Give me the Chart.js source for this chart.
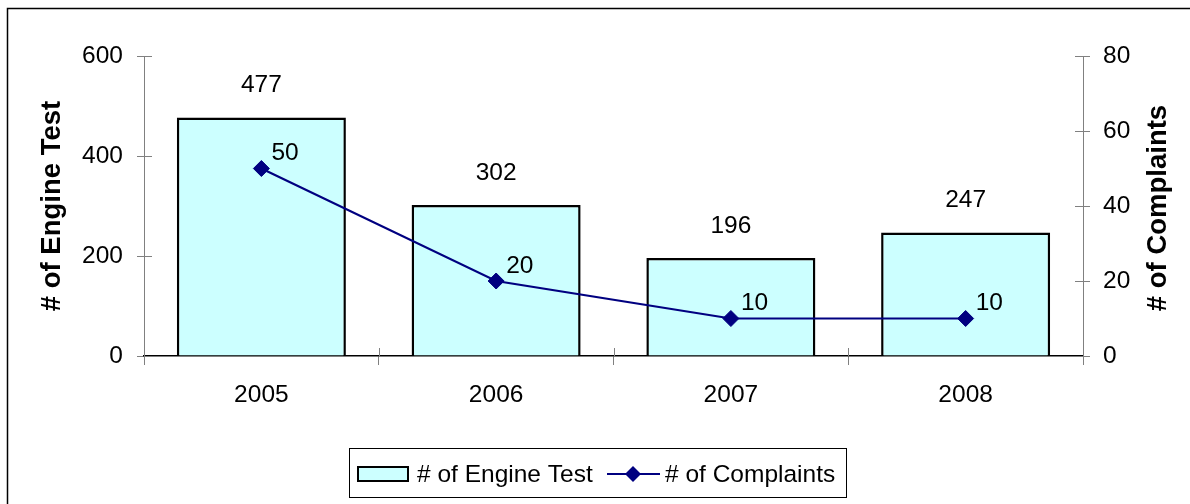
<!DOCTYPE html>
<html>
<head>
<meta charset="utf-8">
<script src="https://cdn.jsdelivr.net/npm/chart.js@4"></script>
<style>
  body { margin: 0; background: #fff; }
</style>
</head>
<body>
<canvas id="chart1" width="1190" height="504"></canvas>
<script>
var years = ["2005", "2006", "2007", "2008"];
var engineTests = [477, 302, 196, 247];
var complaints = [50, 20, 10, 10];
var leftTicks = [0, 200, 400, 600];
var rightTicks = [0, 20, 40, 60, 80];

var FONT = "'Liberation Sans', Arial, sans-serif";
var NAVY = '#000080';
var CYAN = '#CCFFFF';

// frame, value labels, right title, tick marks crossing the axes, legend
var extras = {
    id: 'extras',
    afterDatasetsDraw: function(chart){
        var ctx = chart.ctx;
        ctx.save();
        ctx.fillStyle = '#000';
        ctx.font = '24.5px ' + FONT;
        ctx.textBaseline = 'middle';
        ctx.textAlign = 'center';
        chart.getDatasetMeta(0).data.forEach(function(bar, i){
            ctx.fillText(engineTests[i], bar.x, bar.y - 32);
        });
        ctx.textAlign = 'left';
        chart.getDatasetMeta(1).data.forEach(function(pt, i){
            ctx.fillText(complaints[i], pt.x + 10, pt.y - 15);
        });
        ctx.restore();
    },
    afterDraw: function(chart){
        var ctx = chart.ctx;
        var area = chart.chartArea;
        ctx.save();
        // outer frame
        ctx.strokeStyle = '#000';
        ctx.lineWidth = 1.5;
        ctx.beginPath();
        ctx.moveTo(7.5, 504);
        ctx.lineTo(7.5, 8.5);
        ctx.lineTo(1190, 8.5);
        ctx.stroke();

        // inner halves of ticks
        ctx.strokeStyle = '#808080';
        ctx.lineWidth = 1;
        var y = chart.scales.y, y1 = chart.scales.y1, x = chart.scales.x;
        leftTicks.forEach(function(v){
            var py = Math.round(y.getPixelForValue(v)) + 0.5;
            ctx.beginPath(); ctx.moveTo(area.left, py); ctx.lineTo(area.left + 8, py); ctx.stroke();
        });
        rightTicks.forEach(function(v){
            var py = Math.round(y1.getPixelForValue(v)) + 0.5;
            ctx.beginPath(); ctx.moveTo(area.right - 8, py); ctx.lineTo(area.right, py); ctx.stroke();
        });
        var half = (x.getPixelForValue(1) - x.getPixelForValue(0)) / 2;
        for (var i = 0; i <= years.length; i++) {
            var px = Math.round(x.getPixelForValue(i) - half) + 0.5;
            ctx.beginPath(); ctx.moveTo(px, area.bottom - 8); ctx.lineTo(px, area.bottom); ctx.stroke();
        }

        // right axis title, reading upwards
        ctx.fillStyle = '#000';
        ctx.font = 'bold 27.5px ' + FONT;
        ctx.textAlign = 'center';
        ctx.textBaseline = 'middle';
        ctx.translate(1158, (area.top + area.bottom) / 2 + 2);
        ctx.rotate(-Math.PI / 2);
        ctx.fillText('# of Complaints', 0, 0);
        ctx.restore();

        // legend
        ctx.save();
        ctx.strokeStyle = '#000';
        ctx.lineWidth = 1;
        ctx.strokeRect(349.5, 448.5, 497, 49);
        ctx.fillStyle = CYAN;
        ctx.fillRect(358, 467, 50, 14);
        ctx.lineWidth = 2;
        ctx.strokeRect(358, 467, 50, 14);
        ctx.strokeStyle = NAVY;
        ctx.beginPath(); ctx.moveTo(607, 474); ctx.lineTo(660, 474); ctx.stroke();
        ctx.fillStyle = NAVY;
        ctx.beginPath();
        ctx.moveTo(633, 466); ctx.lineTo(641, 474); ctx.lineTo(633, 482); ctx.lineTo(625, 474);
        ctx.closePath(); ctx.fill();
        ctx.fillStyle = '#000';
        ctx.font = '24.5px ' + FONT;
        ctx.textAlign = 'left';
        ctx.textBaseline = 'middle';
        ctx.fillText('# of Engine Test', 417, 475);
        ctx.fillText('# of Complaints', 665, 475);
        ctx.restore();
    }
};

var ctx = document.getElementById("chart1").getContext('2d');
var chart = new Chart(ctx, {
    type: 'bar',
    data: {
        labels: years,
        datasets: [{
            type: 'bar',
            label: '# of Engine Test',
            data: engineTests,
            yAxisID: 'y',
            backgroundColor: CYAN,
            borderColor: '#000',
            borderWidth: 2.5,
            categoryPercentage: 1,
            barPercentage: 0.72,
            order: 2
        }, {
            type: 'line',
            label: '# of Complaints',
            data: complaints,
            yAxisID: 'y1',
            borderColor: NAVY,
            backgroundColor: NAVY,
            borderWidth: 2.2,
            pointStyle: 'rectRot',
            pointRadius: 8,
            pointBorderWidth: 1,
            tension: 0,
            order: 1
        }]
    },
    options: {
        responsive: false,
        animation: false,
        layout: { padding: { top: 56 } },
        plugins: {
            legend: { display: false },
            tooltip: { enabled: false }
        },
        scales: {
            x: {
                grid: { offset: true, drawOnChartArea: false, tickLength: 9, color: '#808080' },
                border: { color: '#000', width: 1.5 },
                ticks: { color: '#000', font: { family: FONT, size: 24.5 }, padding: 16 },
                afterFit: function(s){ s.height = 148; }
            },
            y: {
                position: 'left',
                min: 0, max: 600,
                grid: { drawOnChartArea: false, tickLength: 7, color: '#808080' },
                border: { color: '#808080' },
                ticks: { stepSize: 200, color: '#000', font: { family: FONT, size: 24.5 }, padding: 14 },
                title: { display: true, text: '# of Engine Test', color: '#000',
                         font: { family: FONT, size: 27.5, weight: 'bold' }, padding: { top: 36, bottom: 0 } },
                afterFit: function(s){ s.width = 144; }
            },
            y1: {
                position: 'right',
                min: 0, max: 80,
                grid: { drawOnChartArea: false, tickLength: 7, color: '#808080' },
                border: { color: '#808080' },
                ticks: { stepSize: 20, color: '#000', font: { family: FONT, size: 24.5 }, padding: 13 },
                afterFit: function(s){ s.width = 107; }
            }
        }
    },
    plugins: [extras]
});
</script>
</body>
</html>
